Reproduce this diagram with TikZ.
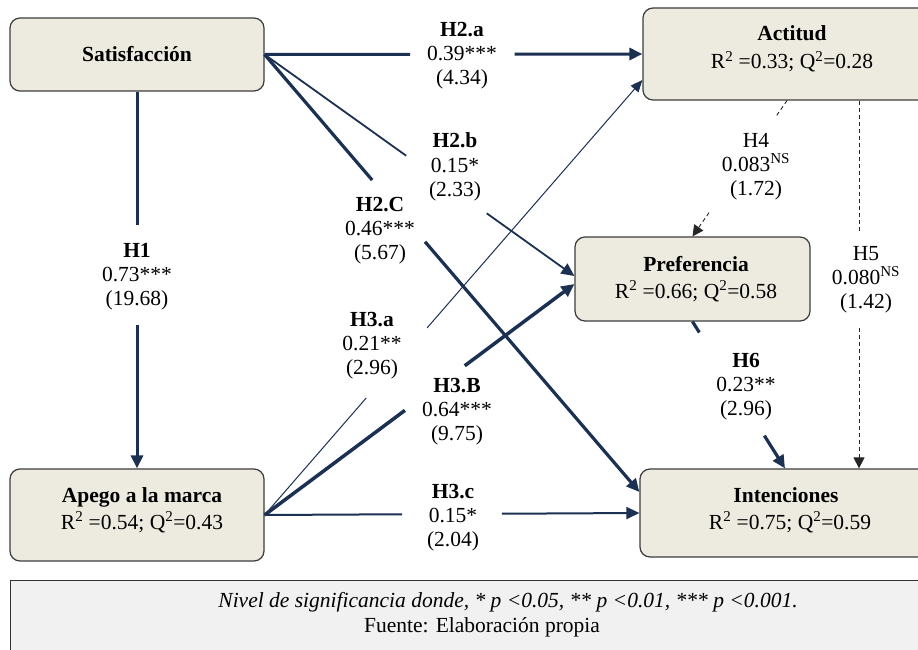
\documentclass[tikz,border=0pt]{standalone}
\usepackage{fontspec}
\setmainfont{Liberation Serif}
\usetikzlibrary{arrows.meta,calc}
\definecolor{navy}{RGB}{28,48,82}
\definecolor{boxfill}{RGB}{237,235,224}
\definecolor{boxline}{RGB}{60,60,60}
\definecolor{footfill}{RGB}{241,241,241}
\begin{document}
\begin{tikzpicture}[x=1pt,y=-1pt,font=\fontsize{21.5}{24}\selectfont,
  box/.style={draw=boxline,fill=boxfill,rounded corners=10pt,line width=1.2pt,inner sep=0pt},
  lbl/.style={align=center,anchor=base,inner sep=0pt},
  conn/.style={draw=navy},
  tip/.style={-{Triangle[length=13pt,width=12pt]}},
  smalltip/.style={-{Triangle[length=12pt,width=10pt]}},
  dsh/.style={draw=black!85,line width=0.9pt,dash pattern=on 4pt off 3pt},
  dtip/.style={-{Triangle[length=11pt,width=11pt]}},
  footbox/.style={draw=black!80,fill=footfill,line width=1.3pt,inner sep=0pt}]
\useasboundingbox (0,0) rectangle (918,650);
\clip (0,0) rectangle (918,650);
\fill[white] (0,0) rectangle (918,650);

% boxes
\node[box,minimum width=254pt,minimum height=73pt] (sat) at (137,54.5) {};
\node[box,minimum width=298pt,minimum height=92pt] (act) at (792,54) {};
\node[box,minimum width=235pt,minimum height=84pt] (pref) at (692.5,279) {};
\node[box,minimum width=254pt,minimum height=92pt] (apego) at (137,515) {};
\node[box,minimum width=296pt,minimum height=88pt] (int) at (788,513) {};
\node[footbox,minimum width=950pt,minimum height=120pt,anchor=north west] (foot) at (10,580) {};

% box texts
\node[lbl] (satt) at (137,62) {\textbf{Satisfacción}};
\node[lbl] (actt) at (792,41) {\textbf{Actitud}};
\node[lbl] (actr) at (792,69) {R\textsuperscript{2} =0.33; Q\textsuperscript{2}=0.28};
\node[lbl] (preft) at (696,271) {\textbf{Preferencia}};
\node[lbl] (prefr) at (696,298) {R\textsuperscript{2} =0.66; Q\textsuperscript{2}=0.58};
\node[lbl] (apegot) at (142,502) {\textbf{Apego a la marca}};
\node[lbl] (apegor) at (142,529) {R\textsuperscript{2} =0.54; Q\textsuperscript{2}=0.43};
\node[lbl] (intt) at (786,502) {\textbf{Intenciones}};
\node[lbl] (intr) at (790,529) {R\textsuperscript{2} =0.75; Q\textsuperscript{2}=0.59};

% anchor points
\coordinate (h4s) at ($(act.south)+(-5,0)$);
\coordinate (h5s) at ($(act.south)+(67,0)$);
\coordinate (h5e) at ($(int.north)+(71,0)$);
\coordinate (h6e) at ($(int.north)+(-3,0)$);
\coordinate (h3ae) at ($(act.west)+(0,26)$);
\coordinate (h2be) at ($(pref.west)+(0,-3)$);
\coordinate (h3be) at ($(pref.west)+(0,5)$);
\coordinate (h2ce) at ($(int.west)+(0,-21)$);

% H1
\draw[conn,line width=3pt] (sat.south) -- ($(sat.south)!0.354!(apego.north)$);
\draw[conn,line width=3pt,tip] ($(sat.south)!0.619!(apego.north)$) -- (apego.north);
% H2.a
\draw[conn,line width=3pt] (sat.east) -- ($(sat.east)!0.385!(act.west)$);
\draw[conn,line width=3pt,tip] ($(sat.east)!0.662!(act.west)$) -- (act.west);
% H2.b
\draw[conn,line width=1.8pt] (sat.east) -- ($(sat.east)!0.457!(h2be)$);
\draw[conn,line width=1.8pt,tip] ($(sat.east)!0.717!(h2be)$) -- (h2be);
% H2.C
\draw[conn,line width=3.2pt] (sat.east) -- ($(sat.east)!0.287!(h2ce)$);
\draw[conn,line width=3.2pt,tip] ($(sat.east)!0.428!(h2ce)$) -- (h2ce);
% H3.a
\draw[conn,line width=1pt] (apego.east) -- ($(apego.east)!0.269!(h3ae)$);
\draw[conn,line width=1pt,smalltip] ($(apego.east)!0.430!(h3ae)$) -- (h3ae);
% H3.B
\draw[conn,line width=3.5pt] (apego.east) -- ($(apego.east)!0.453!(h3be)$);
\draw[conn,line width=3.5pt,tip] ($(apego.east)!0.646!(h3be)$) -- (h3be);
% H3.c
\draw[conn,line width=2pt] (apego.east) -- ($(apego.east)!0.367!(int.west)$);
\draw[conn,line width=2pt,tip] ($(apego.east)!0.633!(int.west)$) -- (int.west);
% H4
\draw[dsh] (h4s) -- ($(h4s)!0.124!(pref.north)$);
\draw[dsh,dtip] ($(h4s)!0.825!(pref.north)$) -- (pref.north);
% H5
\draw[dsh] (h5s) -- ($(h5s)!0.358!(h5e)$);
\draw[dsh,dtip] ($(h5s)!0.618!(h5e)$) -- (h5e);
% H6
\draw[conn,line width=3.2pt] (pref.south) -- ($(pref.south)!0.074!(h6e)$);
\draw[conn,line width=3.2pt,tip] ($(pref.south)!0.777!(h6e)$) -- (h6e);

% labels (anchor = baseline of last line)
\node[lbl] (l1) at (137,305) {\textbf{H1}\\0.73***\\(19.68)};
\node[lbl] (l2a) at (462,85) {\textbf{H2.a}\\0.39***\\(4.34)};
\node[lbl] (l2b) at (455,196) {\textbf{H2.b}\\0.15*\\(2.33)};
\node[lbl] (l2c) at (380,259) {\textbf{H2.C}\\0.46***\\(5.67)};
\node[lbl] (l3a) at (372,374) {\textbf{H3.a}\\0.21**\\(2.96)};
\node[lbl] (l3b) at (457,440) {\textbf{H3.B}\\0.64***\\(9.75)};
\node[lbl] (l3c) at (453,546) {\textbf{H3.c}\\0.15*\\(2.04)};
\node[lbl] (l4) at (756,195) {H4\\0.083\textsuperscript{NS}\\(1.72)};
\node[lbl] (l5) at (866,308) {H5\\0.080\textsuperscript{NS}\\(1.42)};
\node[lbl] (l6) at (746,415) {\textbf{H6}\\0.23**\\(2.96)};

% footer text
\node[lbl] (n1) at (508,607) {\itshape Nivel de significancia donde, * p <0.05, ** p <0.01, *** p <0.001.};
\node[lbl] (n2) at (482,632) {Fuente: Elaboración propia};
\end{tikzpicture}
\end{document}
